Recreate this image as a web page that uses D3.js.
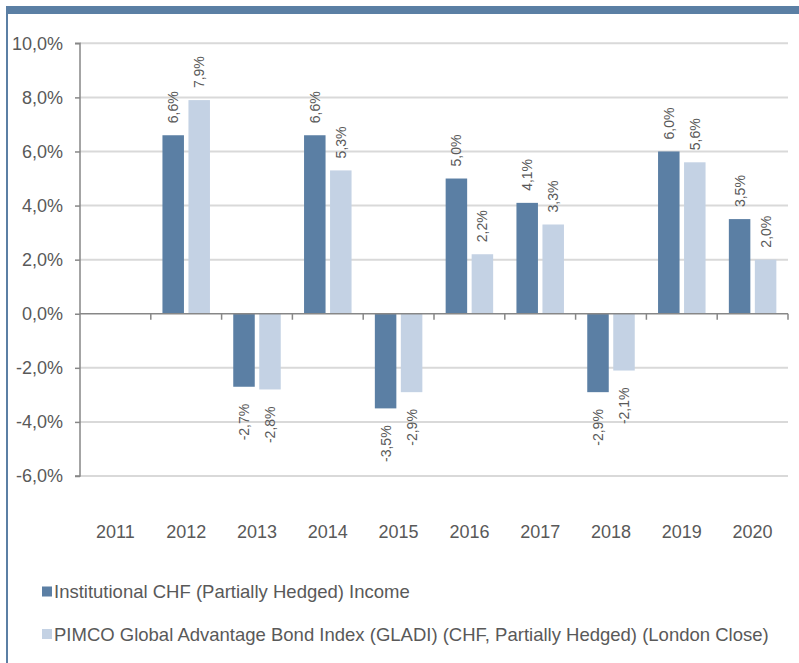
<!DOCTYPE html>
<html>
<head>
<meta charset="utf-8">
<script src="https://cdn.jsdelivr.net/npm/d3@7"></script>
<style>
  body { margin: 0; background: #fff; }
  svg { display: block; }
  svg text { font-family: "Liberation Sans", Arial, sans-serif; }
</style>
</head>
<body>
<div id="chart"></div>
<script>
// Data
const years = ["2011", "2012", "2013", "2014", "2015", "2016", "2017", "2018", "2019", "2020"];
const institutional = [null, 6.6, -2.7, 6.6, -3.5, 5.0, 4.1, -2.9, 6.0, 3.5];
const benchmark = [null, 7.9, -2.8, 5.3, -2.9, 2.2, 3.3, -2.1, 5.6, 2.0];
const seriesNames = [
  "Institutional CHF (Partially Hedged) Income",
  "PIMCO Global Advantage Bond Index (GLADI) (CHF, Partially Hedged) (London Close)"
];
const yTicks = [-6, -4, -2, 0, 2, 4, 6, 8, 10];

const WIDTH = 799, HEIGHT = 663;
const COLORS = ["#5b7fa4", "#c4d2e4"];
const TEXT = "#595959";

const svg = d3.select("#chart").append("svg")
    .attr("width", WIDTH)
    .attr("height", HEIGHT);

// frame: blue header strip and left rule
svg.append("rect").attr("x", 6).attr("y", 6).attr("width", WIDTH - 6).attr("height", 8).attr("fill", COLORS[0]);
svg.append("rect").attr("x", 6).attr("y", 6).attr("width", 2).attr("height", HEIGHT - 6).attr("fill", COLORS[0]);

// scales
const x = d3.scaleBand().domain(years).range([80, 788]);
const y = d3.scaleLinear().domain([-6, 10]).range([476, 43.3]);

// comma decimals, plain hyphen for negatives
const fmt = v => v.toFixed(1).replace(".", ",") + "%";

// gridlines
svg.append("g").selectAll("line")
  .data(yTicks.filter(d => d !== 0))
  .join("line")
    .attr("x1", 80).attr("x2", 788)
    .attr("y1", d => y(d)).attr("y2", d => y(d))
    .attr("stroke", "#d9d9d9").attr("stroke-width", 2);

// y axis
const yAxis = svg.append("g")
    .attr("transform", "translate(80,0)")
    .call(d3.axisLeft(y).tickValues(yTicks).tickFormat(d => fmt(d)).tickSize(5).tickPadding(12))
    .attr("font-family", null);
yAxis.select(".domain").attr("stroke", "#878787").attr("stroke-width", 1.5).attr("d", `M-5,${y(10)}H0V${y(-6)}H-5`);
yAxis.selectAll(".tick line").attr("stroke", "#878787").attr("stroke-width", 1.5);
yAxis.selectAll(".tick text").attr("fill", TEXT).style("font-size", "18px");

// bars
const inner = d3.scaleBand().domain([0, 1]).range([0, x.bandwidth()]).paddingInner(0.173).paddingOuter(0.448);
const series = [institutional, benchmark];

series.forEach((vals, s) => {
  const g = svg.append("g");
  const data = years.map((yr, i) => ({ yr, v: vals[i] })).filter(d => d.v !== null);
  g.selectAll("rect")
    .data(data)
    .join("rect")
      .attr("x", d => x(d.yr) + inner(s))
      .attr("width", inner.bandwidth())
      .attr("y", d => y(Math.max(0, d.v)))
      .attr("height", d => Math.abs(y(d.v) - y(0)))
      .attr("fill", COLORS[s]);

  g.selectAll("text")
    .data(data)
    .join("text")
      .attr("transform", d => {
        const cx = x(d.yr) + inner(s) + inner.bandwidth() / 2;
        const cy = d.v >= 0 ? y(d.v) - 12 : y(d.v) + 17;
        return `translate(${cx},${cy}) rotate(-90)`;
      })
      .attr("dy", "0.35em")
      .attr("text-anchor", d => d.v >= 0 ? "start" : "end")
      .attr("fill", TEXT)
      .style("font-size", "14px")
      .text(d => fmt(d.v));
});

// zero axis with category ticks
const zero = svg.append("g");
zero.append("line")
    .attr("x1", 80).attr("x2", 788)
    .attr("y1", y(0)).attr("y2", y(0))
    .attr("stroke", "#878787").attr("stroke-width", 1.5);
zero.selectAll("line.tk")
  .data(years)
  .join("line")
    .attr("class", "tk")
    .attr("x1", d => x(d) + x.step())
    .attr("x2", d => x(d) + x.step())
    .attr("y1", y(0)).attr("y2", y(0) + 6)
    .attr("stroke", "#878787").attr("stroke-width", 1.5);

// year labels
svg.append("g").selectAll("text")
  .data(years)
  .join("text")
    .attr("x", d => x(d) + x.bandwidth() / 2)
    .attr("y", 538)
    .attr("text-anchor", "middle")
    .attr("fill", TEXT)
    .style("font-size", "18px")
    .text(d => d);

// legend
const legend = svg.append("g");
seriesNames.forEach((name, i) => {
  const cy = 591.5 + i * 42.5;
  legend.append("rect")
      .attr("x", 42).attr("y", cy - 5).attr("width", 10).attr("height", 10)
      .attr("fill", COLORS[i]);
  legend.append("text")
      .attr("x", 54).attr("y", cy + 6.6)
      .attr("fill", TEXT)
      .style("font-size", "18.5px")
      .text(name);
});
</script>
</body>
</html>
